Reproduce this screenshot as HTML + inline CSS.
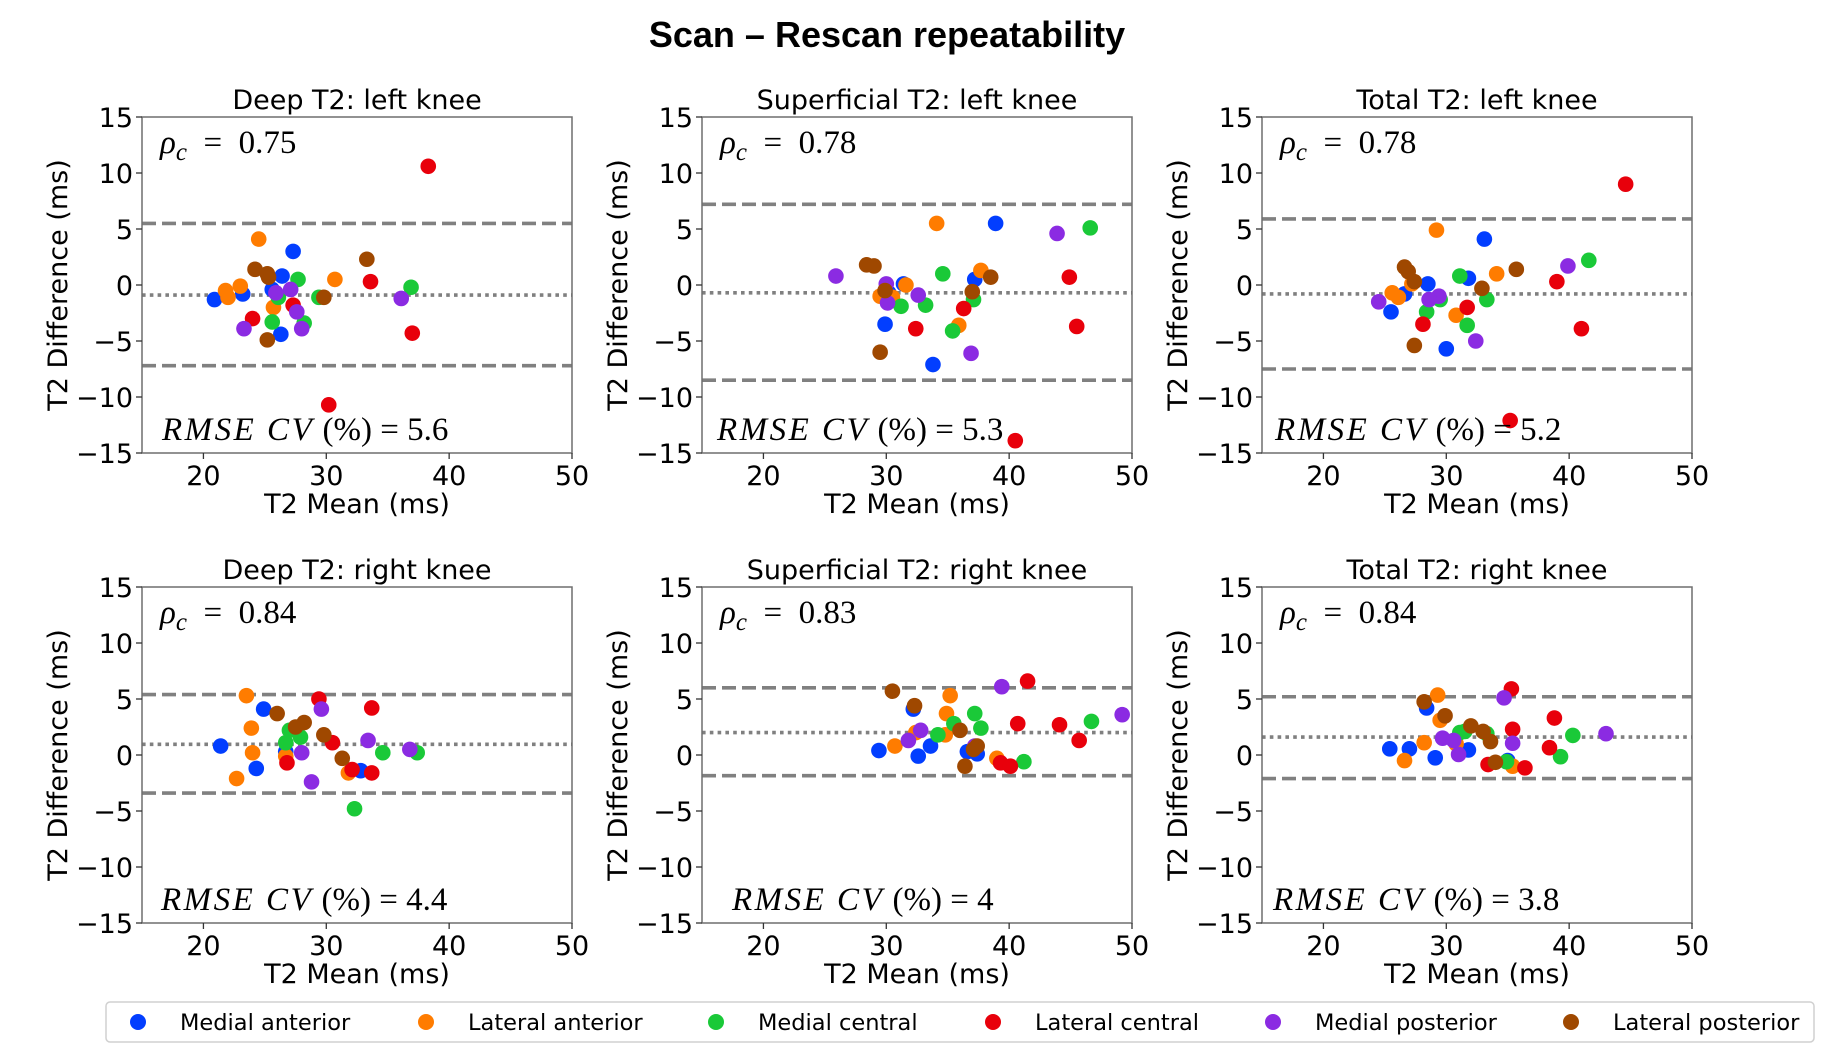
<!DOCTYPE html>
<html><head><meta charset="utf-8">
<style>
html,body{margin:0;padding:0;background:#fff;}
svg text{font-family:"DejaVu Sans","Liberation Sans",sans-serif;}
</style></head>
<body>
<svg id="fig" width="1840" height="1056" viewBox="0 0 1840 1056" xmlns="http://www.w3.org/2000/svg">
<text x="887" y="47" text-anchor="middle" font-size="36" font-weight="bold" style="font-family:'Liberation Sans',sans-serif">Scan – Rescan repeatability</text>
<g id="panels"></g>
<g id="legend">
<rect x="106" y="1002" width="1708" height="40" rx="4" fill="#fff" stroke="#d0d0d0" stroke-width="1.5"/>
</g>
</svg>
<script>
const groupNames = ["Medial anterior","Lateral anterior","Medial central","Lateral central","Medial posterior","Lateral posterior"];
const groupColors = ["#023eff","#ff7c00","#1ac938","#e8000b","#8b2be2","#9f4800"];
const panelTitles = ["Deep T2: left knee","Superficial T2: left knee","Total T2: left knee","Deep T2: right knee","Superficial T2: right knee","Total T2: right knee"];
const rhoValues = ["0.75","0.78","0.78","0.84","0.83","0.84"];
const rmseValues = ["5.6","5.3","5.2","4.4","4","3.8"];
const upperLoA = [5.5, 7.2, 5.9, 5.4, 6.0, 5.2];
const meanBias = [-0.9, -0.7, -0.8, 0.95, 2.0, 1.6];
const lowerLoA = [-7.2, -8.5, -7.5, -3.4, -1.85, -2.1];
const xTicks = [20,30,40,50];
const yTicks = [-15,-10,-5,0,5,10,15];

const meanX_p1 = [[20.9,23.2,26.4,27.3,25.6,26.3],[24.5,21.8,22.0,23.0,25.7,30.7],[27.7,26.1,25.6,28.2,29.4,36.9],[38.3,24.0,27.3,33.6,37.0,30.2],[23.3,25.9,27.1,27.6,28.0,36.1],[24.2,25.2,25.3,25.2,33.3,29.8]];
const diffY_p1 = [[-1.3,-0.8,0.8,3.0,-0.4,-4.4],[4.1,-0.5,-1.1,-0.1,-2.0,0.5],[0.5,-1.1,-3.3,-3.4,-1.1,-0.2],[10.6,-3.0,-1.8,0.3,-4.3,-10.7],[-3.9,-0.7,-0.4,-2.4,-3.9,-1.2],[1.4,1.0,0.7,-4.9,2.3,-1.1]];
const meanX_p2 = [[38.9,29.9,33.8,31.4,30.2,37.2],[34.1,37.7,31.6,29.5,30.5,35.9],[34.6,31.2,33.2,35.4,37.1,46.6],[44.9,36.3,32.4,45.5,40.5],[25.9,30.0,30.1,32.6,36.9,43.9],[28.4,29.0,29.9,29.5,37.0,38.5]];
const diffY_p2 = [[5.5,-3.5,-7.1,0.1,-0.7,0.5],[5.5,1.3,0.0,-1.0,-1.1,-3.6],[1.0,-1.9,-1.8,-4.1,-1.3,5.1],[0.7,-2.1,-3.9,-3.7,-13.9],[0.8,0.1,-1.6,-0.9,-6.1,4.6],[1.8,1.7,-0.5,-6.0,-0.6,0.7]];
const meanX_p3 = [[33.1,31.8,28.5,26.6,25.5,30.0],[29.2,34.1,27.2,25.6,26.1,30.8],[41.6,31.1,29.5,33.3,28.4,31.7],[44.6,39.0,31.7,28.1,41.0,35.2],[39.9,29.4,28.6,24.5,32.4],[26.6,26.9,27.4,35.7,32.9,27.4]];
const diffY_p3 = [[4.1,0.6,0.1,-0.8,-2.4,-5.7],[4.9,1.0,0.1,-0.7,-1.1,-2.7],[2.2,0.8,-1.3,-1.3,-2.4,-3.6],[9.0,0.3,-2.0,-3.5,-3.9,-12.1],[1.7,-1.0,-1.3,-1.5,-5.0],[1.6,1.2,0.3,1.4,-0.3,-5.4]];
const meanX_p4 = [[21.4,24.9,24.3,26.7,32.8],[23.5,23.9,24.0,22.7,26.7,31.8],[27.0,26.7,27.9,34.6,37.4,32.3],[29.4,33.7,30.5,26.8,32.1,33.7],[29.6,33.4,28.0,36.8,28.8],[26.0,27.5,28.2,29.8,31.3]];
const diffY_p4 = [[0.8,4.1,-1.2,0.3,-1.4],[5.3,2.4,0.2,-2.1,-0.1,-1.6],[2.2,1.1,1.6,0.2,0.2,-4.8],[5.0,4.2,1.1,-0.7,-1.3,-1.6],[4.1,1.3,0.2,0.5,-2.4],[3.7,2.5,2.9,1.8,-0.3]];
const meanX_p5 = [[29.4,32.6,33.6,32.2,36.6,37.4],[30.7,35.2,34.9,32.4,34.8,39.0],[37.2,37.7,35.5,34.2,41.2,46.7],[41.5,40.7,44.1,45.7,39.3,40.1],[39.4,49.2,32.8,31.8,37.2],[30.5,32.3,36.0,37.4,37.1,36.4]];
const diffY_p5 = [[0.4,-0.1,0.8,4.1,0.3,0.1],[0.8,5.3,3.7,2.0,1.8,-0.3],[3.7,2.4,2.8,1.8,-0.6,3.0],[6.6,2.8,2.7,1.3,-0.7,-1.0],[6.1,3.6,2.2,1.3,0.8],[5.7,4.4,2.2,0.8,0.5,-1.0]];
const meanX_p6 = [[25.4,27.0,29.1,28.4,31.8,35.0],[29.3,29.5,28.2,26.6,30.8,35.4],[31.1,31.5,33.3,40.3,39.3,34.9],[35.3,35.4,38.8,38.4,33.4,36.4],[34.7,43.0,29.7,30.6,31.0,35.4],[28.2,29.9,32.0,33.6,34.0,33.0]];
const diffY_p6 = [[0.55,0.55,-0.25,4.2,0.45,-0.5],[5.35,3.1,1.1,-0.5,1.0,-1.0],[2.0,2.1,1.9,1.75,-0.15,-0.6],[5.9,2.3,3.3,0.65,-0.85,-1.15],[5.1,1.9,1.5,1.3,0.05,1.05],[4.75,3.5,2.6,1.2,-0.65,2.1]];

const allMeanX = [meanX_p1,meanX_p2,meanX_p3,meanX_p4,meanX_p5,meanX_p6];
const allDiffY = [diffY_p1,diffY_p2,diffY_p3,diffY_p4,diffY_p5,diffY_p6];

const NS = "http://www.w3.org/2000/svg";
const colLeft = [142, 702, 1262];
const rowTop = [117, 587];
const PW = 430, PH = 336;
const rmseOff = [20, 15, 13, 19, 30, 11];
function mk(tag, attrs, parent){ const e=document.createElementNS(NS,tag); for(const k in attrs) e.setAttribute(k,attrs[k]); parent.appendChild(e); return e; }
const panelsG = document.getElementById('panels');

for (let p=0;p<6;p++){
  const L = colLeft[p%3], T = rowTop[Math.floor(p/3)];
  const xs = v => L + (v-15)/35*PW;
  const ys = v => T + (15-v)/30*PH;
  const g = mk('g',{},panelsG);
  
  
  const t = mk('text',{x:L+PW/2,y:T-8,'text-anchor':'middle','font-size':27},g);
  t.textContent = panelTitles[p];
  
  
  const lu = mk('line',{x1:L,x2:L+PW,y1:ys(upperLoA[p]),y2:ys(upperLoA[p]),stroke:'#808080','stroke-width':3.6,'stroke-dasharray':'14 6'},g);
  
  
  const lm = mk('line',{x1:L,x2:L+PW,y1:ys(meanBias[p]),y2:ys(meanBias[p]),stroke:'#808080','stroke-width':3.6,'stroke-dasharray':'3.6 4.2'},g);
  
  
  const ll = mk('line',{x1:L,x2:L+PW,y1:ys(lowerLoA[p]),y2:ys(lowerLoA[p]),stroke:'#808080','stroke-width':3.6,'stroke-dasharray':'14 6'},g);
  
  
  for (let gi=0; gi<6; gi++){
    const mx = allMeanX[p][gi], dy = allDiffY[p][gi];
    for (let i=0;i<mx.length;i++){
      const c = mk('circle',{cx:xs(mx[i]),cy:ys(dy[i]),r:7.8,fill:groupColors[gi]},g);
      
      
    }
  }
  const fr = mk('rect',{x:L,y:T,width:PW,height:PH,fill:'none',stroke:'#6e6e6e','stroke-width':1.5},g);
  
  
  for (const v of yTicks){
    mk('line',{x1:L-6,x2:L,y1:ys(v),y2:ys(v),stroke:'#333','stroke-width':1.3},g);
    const tl = mk('text',{x:L-9,y:ys(v)+10,'text-anchor':'end','font-size':27},g);
    tl.textContent = (v<0?'\u2212':'')+Math.abs(v);
    
    
  }
  for (const v of xTicks){
    mk('line',{x1:xs(v),x2:xs(v),y1:T+PH,y2:T+PH+6,stroke:'#333','stroke-width':1.3},g);
    const tl = mk('text',{x:xs(v),y:T+PH+32,'text-anchor':'middle','font-size':27},g);
    tl.textContent = v;
    
    
  }
  const xl = mk('text',{x:L+PW/2,y:T+PH+60,'text-anchor':'middle','font-size':27},g);
  xl.textContent = 'T2 Mean (ms)';
  
  
  const yl = mk('text',{x:0,y:0,'text-anchor':'middle','font-size':27,transform:`translate(${L-75},${T+PH/2}) rotate(-90)`},g);
  yl.textContent = 'T2 Difference (ms)';
  
  
  const rt = mk('text',{x:L+18,y:T+36,'font-size':33,style:"font-family:'Liberation Serif',serif"},g);
  rt.innerHTML = '<tspan font-style="italic">ρ</tspan><tspan font-style="italic" font-size="25" dy="7">c</tspan><tspan dy="-7" xml:space="preserve">  =  '+rhoValues[p]+'</tspan>';
  rt.setAttribute('xml:space', 'preserve');
  
  
  const rm = mk('text',{x:L+rmseOff[p],y:T+PH-13,'font-size':33,style:"font-family:'Liberation Serif',serif"},g);
  rm.setAttribute('xml:space', 'preserve');
  rm.innerHTML = '<tspan font-style="italic" letter-spacing="2.5">RMSE  CV</tspan> (%)  =  '+rmseValues[p];
  
  
}

const legendG = document.getElementById('legend');
const legX = [138, 426, 716, 993, 1273, 1571];
for (let i=0;i<6;i++){
  const e = mk('g',{},legendG);
  
  
  mk('circle',{cx:legX[i],cy:1022,r:8,fill:groupColors[i]},e);
  const tx = mk('text',{x:legX[i]+42,y:1030,'font-size':22.5},e);
  tx.textContent = groupNames[i];
}
</script>
</body></html>
